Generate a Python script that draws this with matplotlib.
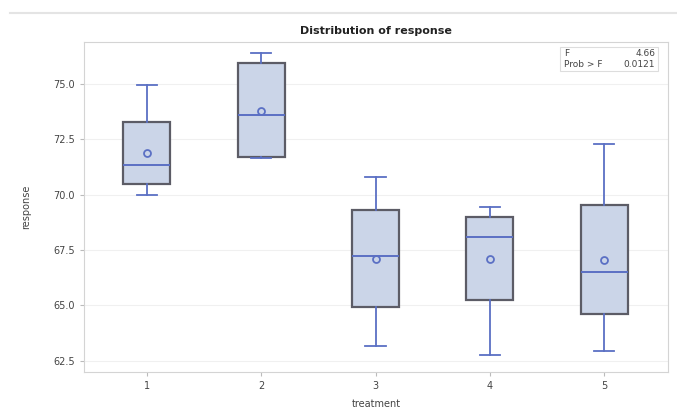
import matplotlib.pyplot as plt
from matplotlib.lines import Line2D
from matplotlib.patches import Rectangle

# --- Values ---
treatments = ['1', '2', '3', '4', '5']
whis_lo = [70.0, 71.65, 63.15, 62.75, 62.95]
q1 = [70.5, 71.7, 64.95, 65.25, 64.6]
medians = [71.35, 73.6, 67.25, 68.1, 66.5]
means = [71.9, 73.8, 67.1, 67.1, 67.05]
q3 = [73.3, 75.95, 69.3, 69.0, 69.55]
whis_hi = [74.95, 76.4, 70.8, 69.45, 72.3]

f_value = '4.66'
p_value = '0.0121'

stats = []
for i, name in enumerate(treatments):
    stats.append(dict(label=name, whislo=whis_lo[i], q1=q1[i], med=medians[i],
                      mean=means[i], q3=q3[i], whishi=whis_hi[i], fliers=[]))

blue = '#5b70c4'
fig = plt.figure(figsize=(6.77, 4.16), dpi=100)
ax = fig.add_axes([0.124, 0.106, 0.863, 0.793])

ax.bxp(stats, positions=range(1, 6), widths=0.41, patch_artist=True,
       showmeans=True, showfliers=False,
       boxprops=dict(facecolor='#cbd5e8', edgecolor='#5c5c66', linewidth=1.6),
       medianprops=dict(color=blue, linewidth=1.4),
       whiskerprops=dict(color=blue, linewidth=1.3),
       capprops=dict(color=blue, linewidth=1.3),
       capwidths=0.18,
       meanprops=dict(marker='o', markersize=5, markerfacecolor='none',
                      markeredgecolor=blue, markeredgewidth=1.3))

ax.set_xlim(0.45, 5.56)
ax.set_ylim(62.0, 76.9)
ax.set_yticks([62.5, 65.0, 67.5, 70.0, 72.5, 75.0])
ax.set_yticklabels(['62.5', '65.0', '67.5', '70.0', '72.5', '75.0'])
ax.yaxis.grid(True, color='#f0f0f0', linewidth=0.8)
ax.set_axisbelow(True)
for s in ax.spines.values():
    s.set_color('#d4d4d4')
ax.tick_params(colors='#bbbbbb', labelcolor='#444444', labelsize=7, length=3)

ax.set_xlabel('treatment', fontsize=7, color='#444444', labelpad=6)
ax.set_ylabel('response', fontsize=7, color='#444444', labelpad=16)
ax.set_title('Distribution of response', fontsize=8, fontweight='bold',
             color='#222222', pad=6)

# F statistic inset
ax.add_patch(Rectangle((0.815, 0.912), 0.168, 0.073, transform=ax.transAxes,
                       facecolor='white', edgecolor='#dddddd', linewidth=0.8,
                       zorder=5))
ax.text(0.822, 0.965, 'F', transform=ax.transAxes, fontsize=6.5,
        color='#444444', ha='left', va='center', zorder=6)
ax.text(0.822, 0.932, 'Prob > F', transform=ax.transAxes, fontsize=6.5,
        color='#444444', ha='left', va='center', zorder=6)
ax.text(0.978, 0.965, f_value, transform=ax.transAxes, fontsize=6.5,
        color='#444444', ha='right', va='center', zorder=6)
ax.text(0.978, 0.932, p_value, transform=ax.transAxes, fontsize=6.5,
        color='#444444', ha='right', va='center', zorder=6)

# thin rule across the top of the figure
fig.add_artist(Line2D([0.015, 1.0], [0.968, 0.968], color='#e4e4e4', linewidth=1.5))

plt.savefig('out.png', dpi=100)
